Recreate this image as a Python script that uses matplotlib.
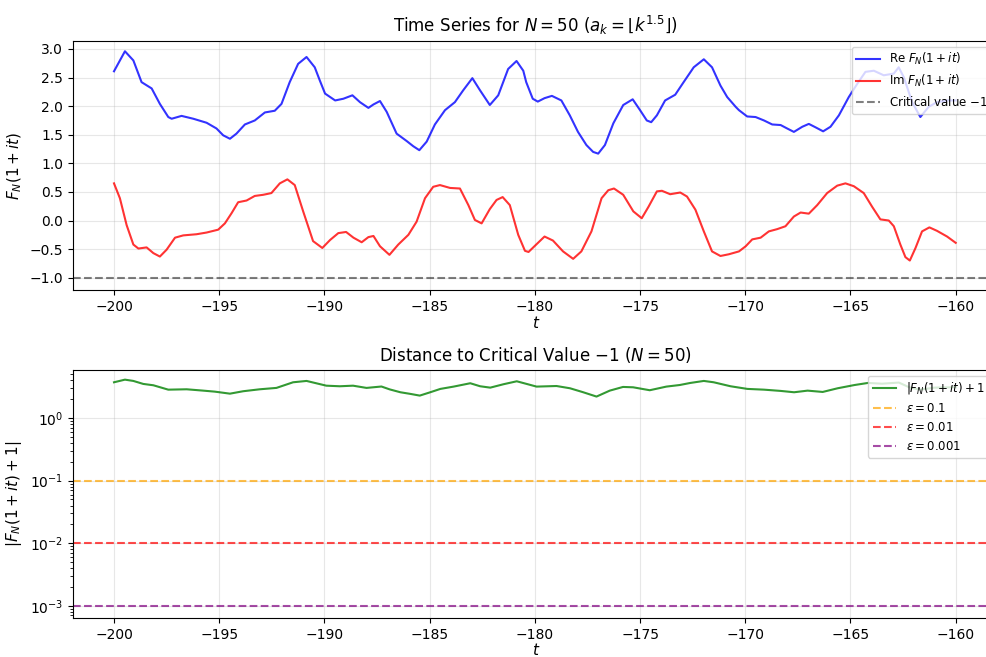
import numpy as np
import matplotlib
matplotlib.use("Agg")
import matplotlib.pyplot as plt
from matplotlib.ticker import MultipleLocator

# ---- data ----
t_re = [-200, -199.48, -199.08, -198.69, -198.21, -197.82, -197.42, -197.26, -196.79, -196.23,
        -195.6, -195.13, -194.81, -194.49, -194.18, -193.78, -193.31, -192.83, -192.36, -192.04,
        -191.65, -191.25, -190.85, -190.46, -190.22, -189.97, -189.49, -189.10, -188.67, -188.31,
        -187.91, -187.67, -187.36, -187.04, -186.57, -186.09, -185.78, -185.49, -185.14, -184.75,
        -184.27, -183.80, -183.40, -182.97, -182.61, -182.14, -181.74, -181.27, -180.87, -180.55,
        -180.41, -180.10, -179.86, -179.54, -179.19, -178.74, -178.34, -177.95, -177.55, -177.23,
        -176.99, -176.67, -176.27, -175.80, -175.35, -175.00, -174.68, -174.47, -174.20, -173.81,
        -173.33, -172.93, -172.45, -171.97, -171.58, -171.18, -170.86, -170.46, -170.30, -169.91,
        -169.51, -169.11, -168.72, -168.32, -168.01, -167.69, -167.29, -166.98, -166.66, -166.30,
        -165.95, -165.55, -165.08, -164.68, -164.29, -163.89, -163.42, -162.94, -162.71, -162.47,
        -162.07, -161.68, -161.28, -160.89, -160.41, -160.0]
re_vals = [2.61, 2.96, 2.80, 2.42, 2.31, 2.04, 1.81, 1.78, 1.83, 1.78,
           1.71, 1.61, 1.49, 1.43, 1.52, 1.68, 1.75, 1.89, 1.92, 2.04,
           2.42, 2.74, 2.86, 2.68, 2.45, 2.22, 2.10, 2.13, 2.19, 2.07,
           1.97, 2.03, 2.09, 1.90, 1.52, 1.39, 1.30, 1.23, 1.38, 1.68,
           1.93, 2.07, 2.28, 2.49, 2.28, 2.02, 2.19, 2.65, 2.79, 2.62,
           2.42, 2.13, 2.08, 2.14, 2.18, 2.10, 1.84, 1.55, 1.32, 1.20,
           1.17, 1.32, 1.70, 2.02, 2.12, 1.93, 1.75, 1.72, 1.84, 2.10,
           2.20, 2.42, 2.68, 2.82, 2.68, 2.36, 2.16, 1.99, 1.93, 1.82,
           1.81, 1.75, 1.68, 1.67, 1.61, 1.55, 1.64, 1.69, 1.63, 1.56,
           1.64, 1.84, 2.16, 2.39, 2.60, 2.62, 2.54, 2.57, 2.68, 2.51,
           2.07, 1.81, 1.99, 2.07, 2.10, 2.10]

t_im = [-200, -199.72, -199.40, -199.08, -198.84, -198.45, -198.13, -197.82, -197.50, -197.10,
        -196.71, -196.08, -195.60, -195.05, -194.73, -194.41, -194.10, -193.70, -193.31, -192.91,
        -192.52, -192.12, -191.76, -191.41, -191.01, -190.54, -190.10, -189.73, -189.34, -188.97,
        -188.62, -188.23, -187.91, -187.67, -187.36, -186.91, -186.49, -186.01, -185.62, -185.22,
        -184.83, -184.51, -184.03, -183.56, -183.16, -182.85, -182.53, -182.14, -181.82, -181.53,
        -181.19, -180.79, -180.47, -180.30, -180.02, -179.54, -179.14, -178.66, -178.18, -177.79,
        -177.31, -176.83, -176.51, -176.24, -175.80, -175.32, -174.92, -174.60, -174.20, -173.96,
        -173.57, -173.09, -172.77, -172.37, -171.97, -171.58, -171.18, -170.78, -170.30, -169.98,
        -169.67, -169.27, -168.88, -168.48, -168.09, -167.69, -167.37, -166.98, -166.58, -166.11,
        -165.63, -165.24, -164.84, -164.37, -163.97, -163.58, -163.18, -162.94, -162.63, -162.39,
        -162.18, -161.91, -161.60, -161.25, -160.89, -160.41, -160.00]
im_vals = [0.65, 0.39, -0.08, -0.42, -0.49, -0.47, -0.57, -0.63, -0.51, -0.30,
           -0.26, -0.24, -0.21, -0.16, -0.05, 0.13, 0.32, 0.35, 0.43, 0.45,
           0.48, 0.65, 0.72, 0.62, 0.16, -0.36, -0.48, -0.34, -0.22, -0.20,
           -0.30, -0.38, -0.29, -0.27, -0.45, -0.60, -0.42, -0.25, -0.02, 0.39,
           0.59, 0.62, 0.57, 0.56, 0.27, 0.01, -0.05, 0.20, 0.36, 0.41,
           0.27, -0.25, -0.53, -0.55, -0.45, -0.28, -0.35, -0.54, -0.67, -0.54,
           -0.19, 0.39, 0.53, 0.56, 0.45, 0.16, 0.04, 0.24, 0.51, 0.52,
           0.46, 0.49, 0.42, 0.19, -0.19, -0.54, -0.62, -0.59, -0.54, -0.45,
           -0.33, -0.30, -0.19, -0.15, -0.10, 0.07, 0.14, 0.12, 0.27, 0.48,
           0.61, 0.65, 0.60, 0.48, 0.24, 0.02, 0.00, -0.10, -0.42, -0.64,
           -0.70, -0.48, -0.19, -0.12, -0.18, -0.28, -0.39]

t_dist = [-200, -199.48, -199.08, -198.61, -198.13, -197.42, -196.55, -195.76, -195.21, -194.49,
          -193.86, -193.07, -192.28, -191.49, -190.85, -189.91, -189.27, -188.64, -188.0, -187.29,
          -186.90, -186.39, -185.92, -185.47, -184.97, -184.49, -183.86, -183.07, -182.60, -182.12,
          -181.49, -180.86, -180.39, -179.92, -178.97, -178.33, -177.70, -177.07, -176.44, -175.81,
          -175.33, -174.54, -173.75, -173.12, -172.61, -171.97, -171.50, -170.70, -169.90, -169.11,
          -168.31, -167.68, -167.04, -166.32, -165.61, -164.81, -164.17, -163.5, -162.7, -162.2,
          -161.7, -161.0, -160.4, -160.0]
dist_vals = [3.74, 4.12, 3.93, 3.52, 3.35, 2.85, 2.89, 2.75, 2.65, 2.46,
             2.69, 2.89, 3.04, 3.74, 3.93, 3.30, 3.23, 3.30, 3.04, 3.20,
             2.88, 2.59, 2.44, 2.29, 2.59, 2.93, 3.19, 3.61, 3.23, 3.07,
             3.48, 3.88, 3.52, 3.19, 3.26, 3.00, 2.59, 2.21, 2.75, 3.15,
             3.11, 2.79, 3.19, 3.38, 3.65, 3.93, 3.74, 3.23, 2.93, 2.85,
             2.72, 2.59, 2.75, 2.62, 3.00, 3.38, 3.65, 3.55, 3.70, 3.10,
             2.85, 3.07, 3.10, 3.12]

critical_value = -1.0
eps_levels = [0.1, 0.01, 0.001]
eps_labels = [r'$\varepsilon = 0.1$', r'$\varepsilon = 0.01$', r'$\varepsilon = 0.001$']
eps_colors = ['orange', 'red', 'purple']

# ---- figure ----
W, H = 987, 657
fig = plt.figure(figsize=(W / 100, H / 100), dpi=100)
x_left_px, x_right_px = 72.7, 999.0
left = x_left_px / W
width = (x_right_px - x_left_px) / W
# pixel mapping: t=-200 at x=114, t=-160 at x=955.7
ppu = (955.7 - 114.0) / 40.0
xlim = (-200 - (114.0 - x_left_px) / ppu, -160 + (x_right_px - 955.7) / ppu)

ax1 = fig.add_axes([left, 1 - 290 / H, width, (290 - 40.7) / H])
ax2 = fig.add_axes([left, 1 - 618 / H, width, (618 - 369.7) / H])

ax1.plot(t_re, re_vals, color='blue', alpha=0.8, lw=1.5, label=r'Re $F_N(1+it)$')
ax1.plot(t_im, im_vals, color='red', alpha=0.8, lw=1.5, label=r'Im $F_N(1+it)$')
ax1.axhline(critical_value, color='black', ls='--', alpha=0.5, lw=1.5, label=r'Critical value $-1$')
ax1.set_xlim(*xlim)
ax1.set_ylim(-1.215, 3.145)
ax1.yaxis.set_major_locator(MultipleLocator(0.5))
ax1.set_xlabel(r'$t$', fontsize=11, labelpad=1)
ax1.set_ylabel(r'$F_N(1+it)$', fontsize=11)
ax1.set_title(r'Time Series for $N=50$ ($a_k=\lfloor k^{1.5}\rfloor$)', fontsize=12)
ax1.grid(True, alpha=0.3)
ax1.legend(loc='upper right', fontsize=8.5)

ax2.semilogy(t_dist, dist_vals, color='green', alpha=0.8, lw=1.5, label=r'$|F_N(1+it)+1|$')
for lev, lab, col in zip(eps_levels, eps_labels, eps_colors):
    ax2.axhline(lev, color=col, ls='--', alpha=0.7, lw=1.5, label=lab)
ax2.set_xlim(*xlim)
ax2.set_ylim(10 ** -3.196, 10 ** 0.774)
ax2.set_xlabel(r'$t$', fontsize=11, labelpad=0)
ax2.set_ylabel(r'$|F_N(1+it)+1|$', fontsize=11)
ax2.set_title(r'Distance to Critical Value $-1$ ($N=50$)', fontsize=12)
ax2.grid(True, alpha=0.3)
ax2.legend(loc='upper right', fontsize=8.5)

fig.savefig('out.png', dpi=100)
